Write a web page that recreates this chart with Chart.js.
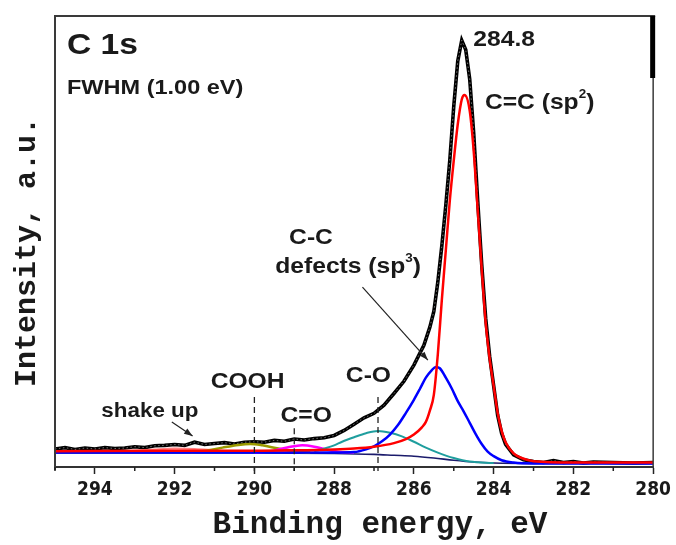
<!DOCTYPE html>
<html>
<head>
<meta charset="utf-8">
<title>C 1s XPS</title>
<script src="https://cdn.jsdelivr.net/npm/chart.js@4.4.1/dist/chart.umd.min.js"></script>
<style>
  html, body { margin: 0; padding: 0; background: #fff; }
  #wrap { width: 676px; height: 545px; }
</style>
</head>
<body>
<div id="wrap"><canvas id="xps_chart" width="676" height="545"></canvas></div>
<script>
// measured spectrum (binding energy, eV -> intensity, a.u.)
const dataEV = [295.0, 294.75, 294.5, 294.25, 294.0, 293.75, 293.5, 293.25, 293.0, 292.75, 292.5, 292.25, 292.0, 291.75, 291.5, 291.25, 291.0, 290.75, 290.5, 290.25, 290.0, 289.75, 289.5, 289.25, 289.0, 288.75, 288.5, 288.25, 288.0, 287.75, 287.5, 287.25, 287.0, 286.75, 286.5, 286.25, 286.0, 285.75, 285.6, 285.5, 285.4, 285.3, 285.2, 285.1, 285.0, 284.9, 284.8, 284.7, 284.6, 284.5, 284.4, 284.3, 284.2, 284.1, 284.0, 283.9, 283.8, 283.7, 283.5, 283.25, 283.0, 282.75, 282.5, 282.25, 282.0, 281.75, 281.5, 281.0, 280.5, 280.0];
const dataCounts = [4.0, 4.3, 3.9, 4.2, 4.0, 4.3, 4.1, 4.2, 4.5, 4.3, 4.7, 4.8, 5.0, 4.8, 5.5, 5.0, 5.2, 5.4, 5.1, 5.5, 5.6, 5.5, 5.9, 5.7, 6.2, 6.0, 6.3, 6.5, 7.0, 8.1, 9.5, 10.9, 11.9, 13.7, 16.3, 19.0, 22.6, 27.0, 31.0, 34.5, 41.0, 49.0, 58.0, 68.0, 80.0, 90.0, 94.6, 92.5, 86.0, 74.0, 59.0, 45.0, 33.0, 24.5, 18.0, 11.5, 7.5, 5.0, 2.7, 1.6, 1.2, 1.0, 1.4, 1.0, 1.2, 0.9, 1.1, 1.0, 0.9, 1.0];

// fitted components
const sp2EV = [295, 292, 290, 289, 288, 287.5, 287, 286.5, 286.2, 286, 285.8, 285.7, 285.6, 285.5, 285.4, 285.3, 285.2, 285.1, 285.0, 284.9, 284.8, 284.73, 284.6, 284.5, 284.4, 284.3, 284.2, 284.1, 284.0, 283.9, 283.8, 283.7, 283.5, 283.3, 283.0, 282, 280];
const sp2I = [3.5, 3.6, 3.6, 3.7, 3.9, 4.1, 4.5, 5.3, 6.2, 7.2, 8.8, 10, 12.5, 16, 25, 37, 48, 59, 68, 76, 81.5, 82.5, 79, 70, 57, 44, 32, 24, 18, 12, 8, 5.5, 3, 2, 1.3, 1.0, 1.0];

const sp3EV = [295, 290, 288, 287.5, 287.2, 287.0, 286.8, 286.6, 286.4, 286.2, 286.0, 285.85, 285.7, 285.55, 285.45, 285.35, 285.2, 285.05, 284.9, 284.75, 284.6, 284.45, 284.3, 284.15, 284.0, 283.8, 283.5, 283.0, 280];
const sp3I = [3.2, 3.2, 3.2, 3.3, 3.9, 4.6, 5.7, 7.2, 9.3, 12.0, 14.9, 17.3, 19.8, 21.5, 22.2, 21.9, 19.8, 17.4, 14.6, 12.3, 9.8, 7.3, 5.1, 3.4, 2.4, 1.5, 1.0, 0.8, 0.8];

const coEV = [288.5, 288.2, 288, 287.8, 287.5, 287.2, 286.9, 286.6, 286.3, 286.0, 285.7, 285.4, 285.0, 284.6, 284.0];
const coI = [3.5, 4.2, 4.8, 5.6, 6.6, 7.5, 8.0, 7.6, 6.8, 5.6, 4.3, 3.2, 2.0, 1.2, 0.9];

const c2oEV = [290, 289.6, 289.3, 289.0, 288.8, 288.5, 288.2, 287.9, 287.5];
const c2oI = [3.2, 3.5, 4.1, 4.6, 4.8, 4.5, 3.9, 3.4, 3.2];

const coohEV = [291.6, 291.2, 290.8, 290.4, 290.1, 289.8, 289.4, 289.0, 288.6];
const coohI = [3.2, 3.6, 4.3, 4.9, 5.1, 4.8, 4.1, 3.5, 3.2];

const shakeEV = [294, 293.5, 293, 292.5, 292, 291.5, 291, 290.5, 290];
const shakeI = [3.3, 3.4, 3.6, 3.9, 4.1, 4.0, 3.7, 3.4, 3.3];

const bgEV = [295, 290, 288, 287, 286.5, 286, 285.5, 285, 284.5, 284, 283, 280];
const bgI = [3.1, 3.1, 3.0, 2.8, 2.6, 2.4, 2.0, 1.5, 1.1, 0.9, 0.8, 0.8];

// axis
const evMin = 280;
const evMax = 295;
const tickLabels = ['280', '282', '284', '286', '288', '290', '292', '294'];

// annotations (data coordinates)
const notes = [
    { parts: [['C 1s', false]], ev: 294.70, y: 93.3, size: 30, align: 'left' },
    { parts: [['FWHM (1.00 eV)', false]], ev: 294.70, y: 84.0, size: 21, align: 'left' },
    { parts: [['284.8', false]], ev: 284.51, y: 94.7, size: 22, align: 'left' },
    { parts: [['C=C (sp', false], ['2', true], [')', false]], ev: 284.22, y: 80.7, size: 22, align: 'left' },
    { parts: [['C-C', false]], ev: 288.58, y: 50.8, size: 22, align: 'center' },
    { parts: [['defects (sp', false], ['3', true], [')', false]], ev: 287.65, y: 44.3, size: 22, align: 'center' },
    { parts: [['C-O', false]], ev: 287.14, y: 20.2, size: 22, align: 'center' },
    { parts: [['COOH', false]], ev: 290.17, y: 18.8, size: 22, align: 'center' },
    { parts: [['C=O', false]], ev: 288.70, y: 11.3, size: 22, align: 'center' },
    { parts: [['shake up', false]], ev: 292.62, y: 12.4, size: 20, align: 'center' }
];
const arrows = [
    { from: [287.29, 39.9], to: [285.65, 23.7] },
    { from: [292.07, 10.0], to: [291.55, 6.9] }
];
const markers = [
    { ev: 290.0, top: 15.5 },
    { ev: 289.0, top: 8.6 },
    { ev: 286.9, top: 15.5 }
];

const TEXT_STRETCH = 1.12;
const SANS = '"Liberation Sans", Arial, sans-serif';
const MONO = '"Liberation Mono", "Courier New", monospace';

function toPoints(xs, ys) {
    return xs.map((x, i) => ({ x: x, y: ys[i] }));
}

function drawNote(ctx, note, px, py) {
    ctx.save();
    ctx.translate(px, py);
    ctx.scale(TEXT_STRETCH, 1);
    const base = `bold ${note.size}px ${SANS}`;
    const sup = `bold ${Math.round(note.size * 0.55)}px ${SANS}`;
    let total = 0;
    note.parts.forEach(([t, s]) => { ctx.font = s ? sup : base; total += ctx.measureText(t).width; });
    let cx = note.align === 'left' ? 0 : -total / 2;
    ctx.textAlign = 'left';
    ctx.textBaseline = 'middle';
    ctx.fillStyle = '#1a1a1a';
    note.parts.forEach(([t, s]) => {
        ctx.font = s ? sup : base;
        ctx.fillText(t, cx, s ? -note.size * 0.4 : 0);
        cx += ctx.measureText(t).width;
    });
    ctx.restore();
}

// frame, minor ticks, markers, arrows, labels
const decorPlugin = {
    id: 'decor',
    afterDraw(chart) {
        const { ctx, chartArea: a, scales: { x, y } } = chart;
        ctx.save();

        // frame
        ctx.strokeStyle = '#3a3a3a';
        ctx.lineWidth = 2;
        ctx.beginPath();
        ctx.moveTo(a.left, a.bottom + 3);
        ctx.lineTo(a.left, a.top);
        ctx.lineTo(a.right + 2, a.top);
        ctx.stroke();
        ctx.lineWidth = 1.5;
        ctx.beginPath();
        ctx.moveTo(a.right, a.top + 60);
        ctx.lineTo(a.right, a.bottom);
        ctx.stroke();
        ctx.fillStyle = '#000';
        ctx.fillRect(a.right - 3, a.top, 5, 62);

        // minor ticks
        ctx.strokeStyle = '#222';
        ctx.lineWidth = 1.5;
        for (let v = evMin + 1; v < evMax + 1; v += 2) {
            const px = x.getPixelForValue(v);
            ctx.beginPath();
            ctx.moveTo(px, a.bottom);
            ctx.lineTo(px, a.bottom + 4);
            ctx.stroke();
        }

        // peak markers
        ctx.setLineDash([6, 4]);
        ctx.lineWidth = 1.3;
        markers.forEach(m => {
            const px = x.getPixelForValue(m.ev);
            ctx.beginPath();
            ctx.moveTo(px, y.getPixelForValue(m.top));
            ctx.lineTo(px, a.bottom + 4);
            ctx.stroke();
        });
        ctx.setLineDash([]);

        // arrows
        ctx.strokeStyle = '#222';
        ctx.fillStyle = '#222';
        ctx.lineWidth = 1.2;
        arrows.forEach(ar => {
            const x0 = x.getPixelForValue(ar.from[0]), y0 = y.getPixelForValue(ar.from[1]);
            const x1 = x.getPixelForValue(ar.to[0]), y1 = y.getPixelForValue(ar.to[1]);
            ctx.beginPath();
            ctx.moveTo(x0, y0);
            ctx.lineTo(x1, y1);
            ctx.stroke();
            const ang = Math.atan2(y1 - y0, x1 - x0);
            ctx.beginPath();
            ctx.moveTo(x1, y1);
            ctx.lineTo(x1 - 9 * Math.cos(ang - 0.35), y1 - 9 * Math.sin(ang - 0.35));
            ctx.lineTo(x1 - 9 * Math.cos(ang + 0.35), y1 - 9 * Math.sin(ang + 0.35));
            ctx.closePath();
            ctx.fill();
        });

        // text labels
        notes.forEach(n => drawNote(ctx, n, x.getPixelForValue(n.ev), y.getPixelForValue(n.y)));

        // axis titles
        ctx.fillStyle = '#1a1a1a';
        ctx.textAlign = 'center';
        ctx.textBaseline = 'middle';
        ctx.font = `bold 31px ${MONO}`;
        ctx.fillText('Binding energy, eV', 380, 525);
        ctx.translate(27, 252);
        ctx.rotate(-Math.PI / 2);
        ctx.font = `bold 30px ${MONO}`;
        ctx.fillText('Intensity, a.u.', 0, 0);

        ctx.restore();
    }
};

function line(points, color, width, order, extra) {
    return Object.assign({
        data: points,
        borderColor: color,
        borderWidth: width,
        pointRadius: 0,
        fill: false,
        order: order,
        cubicInterpolationMode: 'monotone'
    }, extra || {});
}

document.addEventListener('DOMContentLoaded', () => {
    const ctx = document.getElementById('xps_chart').getContext('2d');
    const measured = toPoints(dataEV, dataCounts);

    new Chart(ctx, {
        type: 'line',
        data: {
            datasets: [
                // measured points: thick black trace with a dotted core
                line(measured, '#000000', 3.6, 11, { cubicInterpolationMode: 'default', tension: 0 }),
                line(measured, 'rgba(255,255,255,0.45)', 1, 10, { cubicInterpolationMode: 'default', tension: 0, borderDash: [1.5, 2.5] }),
                line(toPoints(bgEV, bgI), '#1b1b6b', 1.6, 9),
                line(toPoints(shakeEV, shakeI), '#ff7f7f', 2, 8),
                line(toPoints(coohEV, coohI), '#9a9a00', 2.5, 7),
                line(toPoints(c2oEV, c2oI), '#ff00ff', 2.5, 6),
                line(toPoints(coEV, coI), '#1f9e9e', 2, 5),
                line(toPoints(sp3EV, sp3I), '#0000ff', 2.5, 4),
                line(toPoints(sp2EV, sp2I), '#ff0000', 2.5, 3)
            ]
        },
        options: {
            responsive: false,
            animation: false,
            devicePixelRatio: 1,
            layout: { padding: { left: 55, right: 16, top: 16, bottom: 0 } },
            plugins: { legend: { display: false }, tooltip: { enabled: false } },
            scales: {
                x: {
                    type: 'linear',
                    reverse: true,
                    min: evMin,
                    max: evMax,
                    afterFit: (scale) => { scale.height = 78; },
                    border: { display: true, color: '#333', width: 2 },
                    grid: {
                        drawOnChartArea: false,
                        drawTicks: true,
                        tickLength: 7,
                        tickWidth: 1.5,
                        tickColor: (c) => (c.tick && tickLabels.includes(String(c.tick.value))) ? '#222' : 'rgba(0,0,0,0)'
                    },
                    ticks: {
                        stepSize: 1,
                        autoSkip: false,
                        maxRotation: 0,
                        padding: 5,
                        color: '#1a1a1a',
                        font: { family: '"Liberation Sans Narrow", "DejaVu Sans Condensed", sans-serif', size: 19, weight: 'bold' },
                        callback: (v) => tickLabels.includes(String(v)) ? String(v) : ''
                    }
                },
                y: {
                    display: false,
                    min: 0,
                    max: 100
                }
            }
        },
        plugins: [decorPlugin]
    });
});
</script>
</body>
</html>
